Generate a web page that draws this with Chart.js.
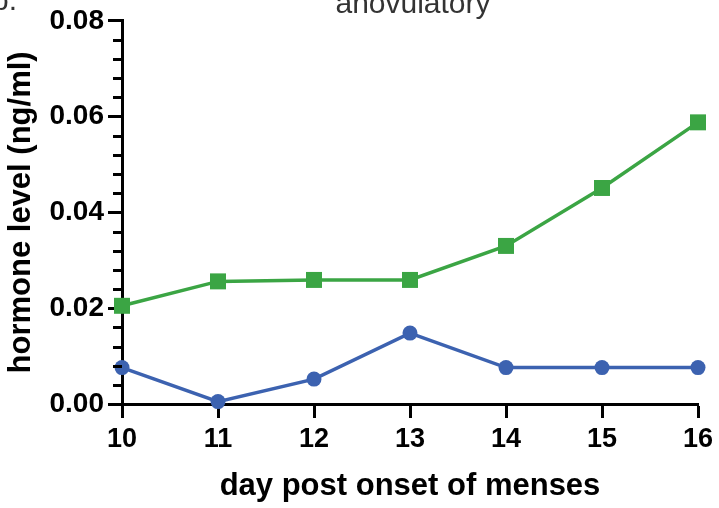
<!DOCTYPE html>
<html>
<head>
<meta charset="utf-8">
<script src="https://cdn.jsdelivr.net/npm/chart.js@4/dist/chart.umd.min.js"></script>
<style>
  body { margin: 0; background: #fff; }
  canvas { display: block; }
</style>
</head>
<body>
<canvas id="chart" width="719" height="508"></canvas>
<script>
// data
const days = [10, 11, 12, 13, 14, 15, 16];
const greenValues = [0.0205, 0.0256, 0.0259, 0.0259, 0.0330, 0.0451, 0.0588];
const blueValues = [0.0076, 0.0005, 0.0052, 0.0148, 0.0076, 0.0076, 0.0076];
const yMajorTicks = [0, 0.02, 0.04, 0.06, 0.08];
const yMinorStep = 0.004;

const FONT = "'Liberation Sans', Arial, Helvetica, sans-serif";
const GREEN = "#3ba544";
const BLUE = "#3c62b0";

function toPoints(values) {
    return days.map((d, i) => ({ x: d, y: values[i] }));
}

// title + panel letter, cut off by the top edge like the original
const headerPlugin = {
    id: "header",
    afterDraw(chart) {
        const ctx = chart.ctx;
        ctx.save();
        ctx.fillStyle = "#333";
        ctx.font = `30px ${FONT}`;
        ctx.textAlign = "center";
        ctx.textBaseline = "alphabetic";
        ctx.fillText("anovulatory", 413, 13);
        ctx.textAlign = "left";
        ctx.fillText("b.", -8, 10);
        ctx.restore();
    }
};

// minor ticks on the y axis
const minorTicksPlugin = {
    id: "minorTicks",
    afterDraw(chart) {
        const y = chart.scales.y;
        const ctx = chart.ctx;
        const x0 = chart.chartArea.left;
        ctx.save();
        ctx.strokeStyle = "#000";
        ctx.lineWidth = 3;
        for (let i = 0; i <= Math.round(y.max / yMinorStep); i++) {
            if (i % 5 === 0) continue;
            const py = Math.round(y.getPixelForValue(i * yMinorStep)) + 0.5;
            ctx.beginPath();
            ctx.moveTo(x0 - 9, py);
            ctx.lineTo(x0, py);
            ctx.stroke();
        }
        ctx.restore();
    }
};

new Chart(document.getElementById("chart"), {
    type: "line",
    data: {
        datasets: [
            {
                data: toPoints(blueValues),
                borderColor: BLUE,
                backgroundColor: BLUE,
                borderWidth: 3.5,
                pointStyle: "circle",
                pointRadius: 7.5,
                pointBorderWidth: 0,
                pointBackgroundColor: BLUE,
                clip: false
            },
            {
                data: toPoints(greenValues),
                borderColor: GREEN,
                backgroundColor: GREEN,
                borderWidth: 3.5,
                pointStyle: "rect",
                pointRadius: 11.3,
                pointBorderWidth: 0,
                pointBackgroundColor: GREEN,
                clip: false
            }
        ]
    },
    options: {
        responsive: false,
        devicePixelRatio: 1,
        animation: false,
        layout: { padding: { top: 20, right: 21, left: 0, bottom: 0 } },
        plugins: {
            legend: { display: false },
            tooltip: { enabled: false }
        },
        scales: {
            x: {
                type: "linear",
                min: 10,
                max: 16,
                afterFit: (scale) => { scale.height = 104; },
                ticks: {
                    stepSize: 1,
                    color: "#000",
                    padding: 5,
                    font: { family: FONT, size: 27, weight: "bold" }
                },
                grid: {
                    drawOnChartArea: false,
                    tickLength: 14,
                    tickWidth: 3,
                    tickColor: "#000"
                },
                border: { color: "#000", width: 3 },
                title: {
                    display: true,
                    text: "day post onset of menses",
                    color: "#000",
                    padding: { top: 0, bottom: 3 },
                    font: { family: FONT, size: 31, weight: "bold" }
                }
            },
            y: {
                min: 0,
                max: 0.08,
                afterFit: (scale) => { scale.width = 122; },
                afterBuildTicks: (scale) => {
                    scale.ticks = yMajorTicks.map(v => ({ value: v }));
                },
                ticks: {
                    color: "#000",
                    padding: 4,
                    callback: (v) => Number(v).toFixed(2),
                    font: { family: FONT, size: 28, weight: "bold" }
                },
                grid: {
                    drawOnChartArea: false,
                    tickLength: 14,
                    tickWidth: 3,
                    tickColor: "#000"
                },
                border: { color: "#000", width: 3 },
                title: {
                    display: true,
                    text: "hormone level (ng/ml)",
                    color: "#000",
                    padding: { top: 3, bottom: 0 },
                    font: { family: FONT, size: 31, weight: "bold" }
                }
            }
        }
    },
    plugins: [headerPlugin, minorTicksPlugin]
});
</script>
</body>
</html>
